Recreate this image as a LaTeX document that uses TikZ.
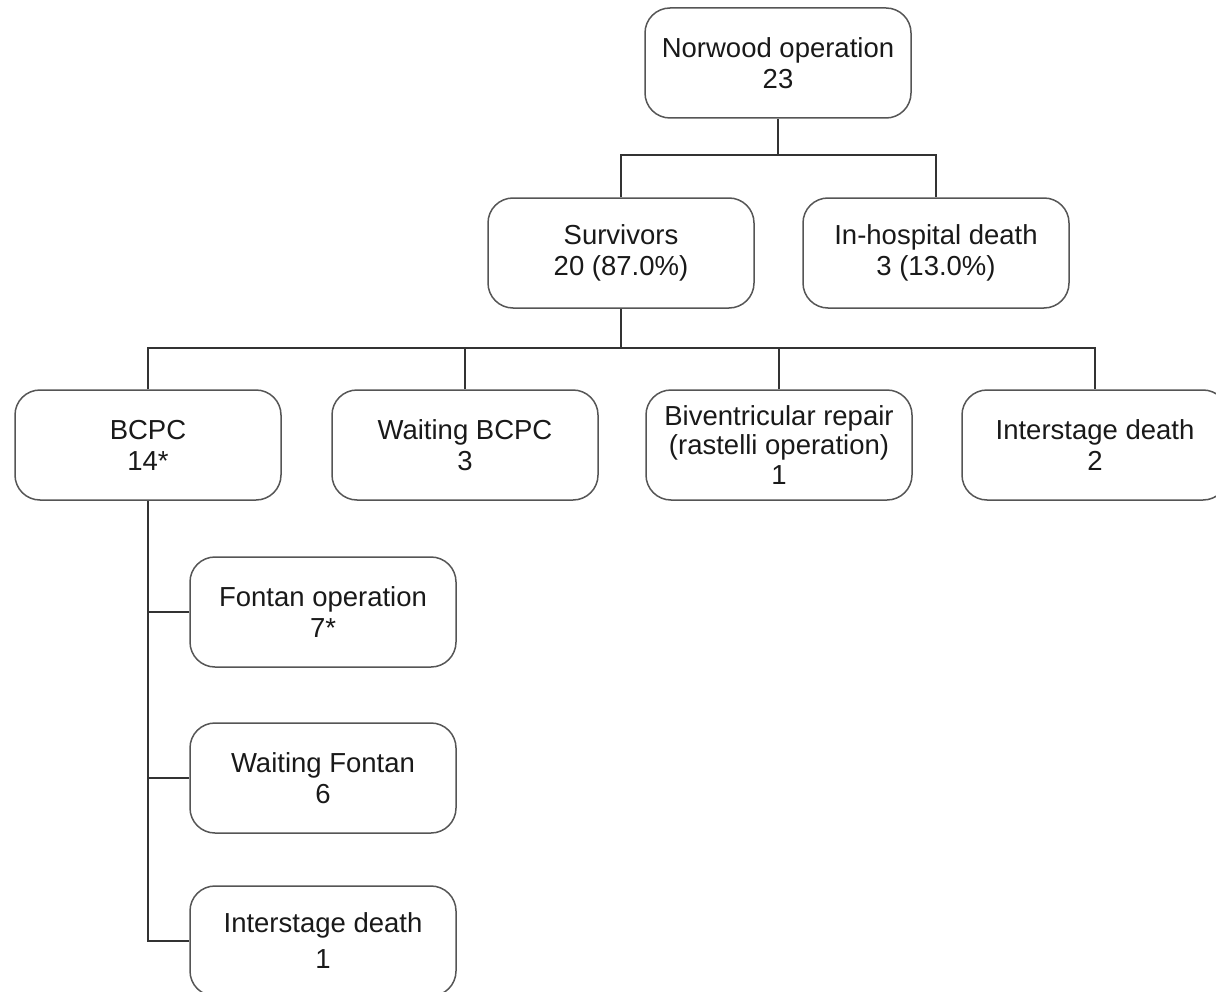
\documentclass[tikz,border=0pt]{standalone}
\usepackage{fontspec}
\setmainfont{Liberation Sans}
\definecolor{boxgray}{HTML}{555555}
\definecolor{linegray}{HTML}{333333}
\begin{document}
\begin{tikzpicture}[x=0.6pt,y=-0.6pt,
  box/.style={draw=boxgray, line width=0.9pt, rounded corners=15pt,
    minimum width=159.6pt, minimum height=66pt, align=center,
    font=\fontsize{16.5}{18.6}\selectfont, inner sep=0pt, text=black!90},
  link/.style={draw=linegray, line width=1.2pt}]
\useasboundingbox (0,0) rectangle (1216,992);
\node[box] (norwood) at (778,63) {Norwood operation\\23};
\node[box] (surv) at (621,253) {Survivors\\20 (87.0\%)};
\node[box] (hosp) at (936,253) {In-hospital death\\3 (13.0\%)};
\node[box] (bcpc) at (148,445) {BCPC\\14*};
\node[box] (wbcpc) at (465,445) {Waiting BCPC\\3};
\node[box, font=\fontsize{16.5}{17.5}\selectfont] (biv) at (779,445) {Biventricular repair\\(rastelli operation)\\1};
\node[box] (inter) at (1095,445) {Interstage death\\2};
\node[box] (fontan) at (323,612) {Fontan operation\\7*};
\node[box] (wfontan) at (323,778) {Waiting Fontan\\6};
\node[box] (inter2) at (323,941) {Interstage death\\[3pt]1};
\coordinate (j1) at (778,155);
\coordinate (j2) at (621,348);
\draw[link] (norwood.south) -- (j1);
\draw[link] (surv.north) -- (surv.north |- j1) -- (hosp.north |- j1) -- (hosp.north);
\draw[link] (surv.south) -- (j2);
\draw[link] (bcpc.north) -- (bcpc.north |- j2) -- (inter.north |- j2) -- (inter.north);
\draw[link] (wbcpc.north) -- (wbcpc.north |- j2);
\draw[link] (biv.north) -- (biv.north |- j2);
\draw[link] (bcpc.south) |- (inter2.west);
\draw[link] (bcpc.south |- fontan.west) -- (fontan.west);
\draw[link] (bcpc.south |- wfontan.west) -- (wfontan.west);
\end{tikzpicture}
\end{document}
